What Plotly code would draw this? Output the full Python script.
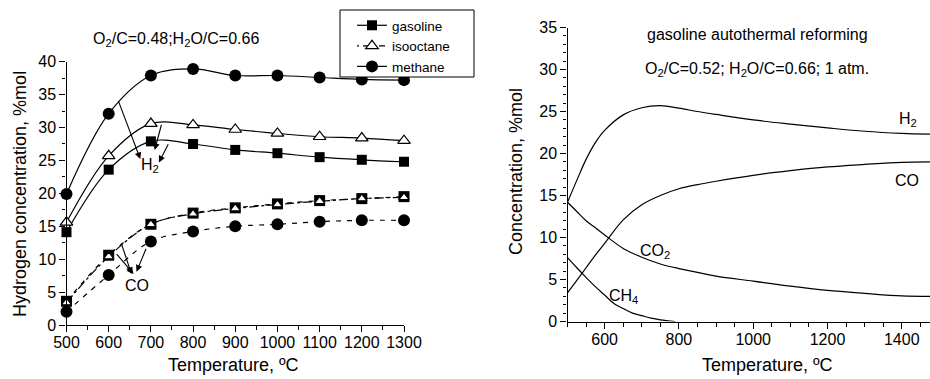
import plotly.graph_objects as go

# ---------------- data (left panel) ----------------
T_left = [500, 600, 700, 800, 900, 1000, 1100, 1200, 1300]
h2_gasoline = [14.1, 23.6, 27.9, 27.5, 26.6, 26.1, 25.5, 25.1, 24.8]
h2_isooctane = [15.6, 25.7, 30.6, 30.4, 29.7, 29.1, 28.6, 28.4, 28.0]
h2_methane = [19.9, 32.1, 37.9, 38.9, 37.9, 37.9, 37.6, 37.3, 37.2]
co_gasoline = [3.6, 10.6, 15.3, 17.0, 17.8, 18.4, 18.9, 19.2, 19.5]
co_isooctane = [3.4, 10.4, 15.3, 16.9, 17.7, 18.3, 18.8, 19.2, 19.4]
co_methane = [2.0, 7.6, 12.7, 14.2, 15.0, 15.3, 15.7, 15.9, 15.9]
legend_names = ["gasoline", "isooctane", "methane"]

# arrows: (tail_T, tail_val, head_T, head_val)
h2_arrows = [(622, 34.2, 675, 25.2), (726, 30.65, 709, 26.6), (743, 27.7, 719, 24.7)]
co_arrows = [(629, 12.6, 654, 7.75), (616, 11.0, 659, 7.75), (690, 11.8, 666, 8.1)]

# ---------------- data (right panel) ----------------
T_right = [500, 525, 550, 575, 600, 650, 700, 750, 800, 850, 900, 1000, 1100, 1200, 1300, 1400, 1480]
h2_right = [14.2, 16.8, 19.3, 21.3, 22.75, 24.6, 25.45, 25.7, 25.4, 25.0, 24.65, 24.0, 23.5, 23.05, 22.65, 22.4, 22.3]
co_right = [3.4, 4.9, 6.4, 7.9, 9.3, 12.1, 13.9, 15.0, 15.8, 16.3, 16.7, 17.4, 17.95, 18.4, 18.7, 18.95, 19.0]
co2_right = [14.2, 13.1, 12.0, 11.15, 10.3, 8.7, 7.65, 6.85, 6.3, 5.85, 5.4, 4.8, 4.2, 3.7, 3.35, 3.05, 3.0]
T_ch4 = [500, 525, 550, 575, 600, 625, 650, 675, 700, 725, 750, 790]
ch4_right = [7.6, 6.4, 5.25, 4.15, 3.15, 2.15, 1.55, 1.0, 0.7, 0.4, 0.2, 0.0]

FONT = "Liberation Sans, Arial, sans-serif"
W, H = 930, 379

def px(x):
    return x / W

def py(y):
    return 1 - y / H

fig = go.Figure()

LW = 1.2
# H2 curves (solid)
fig.add_trace(go.Scatter(x=T_left, y=h2_methane, mode="lines+markers", line=dict(color="black", width=LW, shape="spline"),
                         marker=dict(symbol="circle", size=12, color="black"), showlegend=False, cliponaxis=False))
fig.add_trace(go.Scatter(x=T_left, y=h2_gasoline, mode="lines+markers", line=dict(color="black", width=LW, shape="spline"),
                         marker=dict(symbol="square", size=10, color="black"), showlegend=False, cliponaxis=False))
fig.add_trace(go.Scatter(x=T_left, y=h2_isooctane, mode="lines+markers", line=dict(color="black", width=LW, shape="spline"),
                         marker=dict(symbol="triangle-up", size=11, color="white", line=dict(color="black", width=1.2)),
                         showlegend=False, cliponaxis=False))
# CO curves (dashed)
fig.add_trace(go.Scatter(x=T_left, y=co_methane, mode="lines+markers", line=dict(color="black", width=LW, shape="spline", dash="5px,6px"),
                         marker=dict(symbol="circle", size=12, color="black"), showlegend=False, cliponaxis=False))
fig.add_trace(go.Scatter(x=T_left, y=co_gasoline, mode="lines+markers", line=dict(color="black", width=LW, shape="spline", dash="5px,6px"),
                         marker=dict(symbol="square", size=11, color="black"), showlegend=False, cliponaxis=False))
fig.add_trace(go.Scatter(x=T_left, y=co_isooctane, mode="lines+markers", line=dict(color="black", width=LW, shape="spline", dash="dashdot"),
                         marker=dict(symbol="triangle-up", size=9, color="white", line=dict(color="black", width=1.2)),
                         showlegend=False, cliponaxis=False))

# legend-only entries
leg_styles = [
    dict(line=dict(color="black", width=LW), marker=dict(symbol="square", size=10, color="black")),
    dict(line=dict(color="black", width=LW, dash="2px,4px,6px,4px"), marker=dict(symbol="triangle-up", size=11, color="white", line=dict(color="black", width=1.2))),
    dict(line=dict(color="black", width=LW), marker=dict(symbol="circle", size=12, color="black")),
]
for name, st in zip(legend_names, leg_styles):
    fig.add_trace(go.Scatter(x=[None], y=[None], mode="lines+markers", name=name, **st))

# right panel
for xs, ys in [(T_right, h2_right), (T_right, co_right), (T_right, co2_right), (T_ch4, ch4_right)]:
    fig.add_trace(go.Scatter(x=xs, y=ys, mode="lines", line=dict(color="black", width=LW, shape="spline"),
                             showlegend=False, xaxis="x2", yaxis="y2"))

axis_common = dict(showline=True, linecolor="black", linewidth=1.3, showgrid=False, zeroline=False,
                   ticks="outside", tickcolor="black", tickwidth=1.1, ticklen=6,
                   tickfont=dict(family=FONT, size=16, color="black"), automargin=False)

fig.update_layout(
    width=W, height=H,
    margin=dict(l=0, r=0, t=0, b=0),
    paper_bgcolor="white", plot_bgcolor="white",
    font=dict(family=FONT, color="black"),
    xaxis=dict(domain=[px(66.5), px(404)], range=[500, 1300], tick0=500, dtick=100, ticklabelstandoff=-3,
               minor=dict(dtick=50, ticks="outside", ticklen=3.5, tickcolor="black", tickwidth=1.1), anchor="y", **axis_common),
    yaxis=dict(domain=[py(325), py(61.7)], range=[0, 40], tick0=0, dtick=5,
               minor=dict(dtick=2.5, ticks="outside", ticklen=3.5, tickcolor="black", tickwidth=1.1), anchor="x", **axis_common),
    xaxis2=dict(domain=[px(567.5), 1.0], range=[500, 1476], tick0=0, dtick=200, ticklabelstandoff=-3,
                minor=dict(dtick=50, ticks="outside", ticklen=4, tickcolor="black", tickwidth=1.1), anchor="y2", **axis_common),
    yaxis2=dict(domain=[py(321.5), py(27.5)], range=[0, 35], tick0=0, dtick=5,
                minor=dict(dtick=1, ticks="outside", ticklen=3, tickcolor="black", tickwidth=1.1), anchor="x2", **axis_common),
    legend=dict(x=px(352), y=py(10), xanchor="left", yanchor="top", bgcolor="rgba(0,0,0,0)", borderwidth=0,
                font=dict(family=FONT, size=13.5, color="black"), tracegroupgap=0, itemwidth=30),
    shapes=[dict(type="rect", xref="paper", yref="paper", x0=px(340), x1=px(474), y0=py(77), y1=py(10),
                 line=dict(color="black", width=1), fillcolor="white", layer="above")],
)

def note(text, x, y, size=16, angle=0):
    return dict(text=text, x=px(x), y=py(y), xref="paper", yref="paper", showarrow=False,
                xanchor="center", yanchor="middle", textangle=angle, font=dict(size=size))

ann = []
# axis titles
ann.append(note("Temperature, ºC", 233, 365, 18))
ann.append(note("Temperature, ºC", 767, 365, 18))
ann.append(note("Hydrogen concentration, %mol", 20, 194, 18, -90))
ann.append(note("Concentration, %mol", 516, 172, 18, -90))
# conditions
ann.append(note("O<sub>2</sub>/C=0.48;H<sub>2</sub>O/C=0.66", 176, 39))
ann.append(note("gasoline autothermal reforming", 757, 34))
ann.append(note("O<sub>2</sub>/C=0.52; H<sub>2</sub>O/C=0.66; 1 atm.", 757, 69))
# species labels left
ann.append(dict(text="H<sub>2</sub>", x=697, y=24.3, xref="x", yref="y", showarrow=False,
                xanchor="center", yanchor="middle", font=dict(size=16)))
ann.append(dict(text="CO", x=668, y=6.0, xref="x", yref="y", showarrow=False,
                xanchor="center", yanchor="middle", font=dict(size=16)))
for (tx, ty, hx, hy) in h2_arrows + co_arrows:
    ann.append(dict(text="", x=hx, y=hy, ax=tx, ay=ty, xref="x", yref="y", axref="x", ayref="y",
                    showarrow=True, arrowhead=2, arrowsize=1.2, arrowwidth=1.1, arrowcolor="black"))
# species labels right
for text, x, y in [("H<sub>2</sub>", 1418, 24.0), ("CO", 1415, 16.8), ("CO<sub>2</sub>", 736, 8.3), ("CH<sub>4</sub>", 652, 3.0)]:
    ann.append(dict(text=text, x=x, y=y, xref="x2", yref="y2", showarrow=False,
                    xanchor="center", yanchor="middle", font=dict(size=16)))
fig.update_layout(annotations=ann)

fig.write_html("out.html")
